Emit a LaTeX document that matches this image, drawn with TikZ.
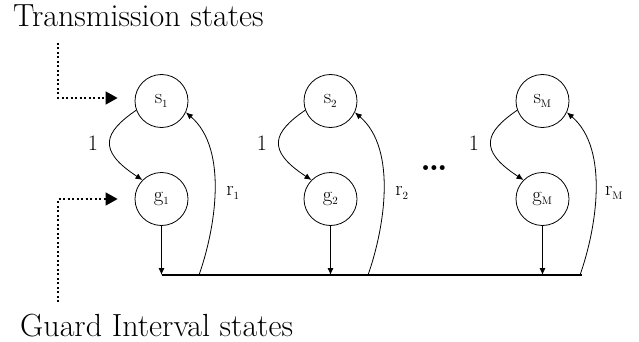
\documentclass[tikz,border=0pt]{standalone}
\usetikzlibrary{arrows.meta}
\newcommand{\statelab}[2]{$\mathrm{#1}_{\scriptscriptstyle\mathrm{#2}}$}
\begin{document}
\begin{tikzpicture}[x=1pt,y=-1pt,
  state/.style={circle,draw,line width=0.8pt,minimum size=53pt,inner sep=0pt,font=\fontsize{22}{22}\selectfont},
  edge/.style={line width=0.8pt,-{Latex[length=7pt,width=6pt]}},
  dotarrow/.style={line width=1.5pt,dash pattern=on 2pt off 2.5pt,-{Triangle[length=12pt,width=13pt]}},
  bus/.style={line width=2.5pt},
  title/.style={font=\fontsize{32}{32}\selectfont,anchor=base west,inner sep=0pt},
  onelab/.style={font=\fontsize{22}{22}\selectfont,inner sep=0pt},
  rlab/.style={font=\fontsize{22}{22}\selectfont,inner sep=0pt}]
\useasboundingbox (0,0) rectangle (639,342);
\node[title] (ttop) at (13,27) {Transmission states};
\node[title] (tbot) at (20,336) {Guard Interval states};
\coordinate (L1) at (161.5,275);
\coordinate (L2) at (582,275);
\draw[bus] (L1) -- (L2);
\foreach \i/\dx/\sub in {1/0/1,2/169/2,3/381/M}{
  \node[state] (s\i) at (161.5+\dx,101) {\statelab{s}{\sub}};
  \node[state] (g\i) at (161.5+\dx,199) {\statelab{g}{\sub}};
  \draw[edge] (s\i.200) .. controls +(-32,22) and +(-46,-30) .. (g\i.135);
  \node[onelab] (one\i) at (93+\dx,143) {1};
  \draw[edge] (g\i) -- (g\i |- L1);
  \coordinate (r\i) at (199+\dx,275);
  \draw[edge] (r\i) .. controls +(16,-45) and +(43,37) .. (s\i.-25);
  \node[rlab] (rl\i) at (233+\dx,193) {\statelab{r}{\sub}};
}
\node[font=\fontsize{34}{34}\selectfont\bfseries,inner sep=0pt] (dots) at (434,168) {\ldots};
\coordinate (tA) at (58,43);
\coordinate (gA) at (58,302);
\draw[dotarrow,shorten >=17pt] (tA) |- ([yshift=3pt]s1.west);
\draw[dotarrow,shorten >=17pt] (gA) |- (g1.west);
\end{tikzpicture}
\end{document}
